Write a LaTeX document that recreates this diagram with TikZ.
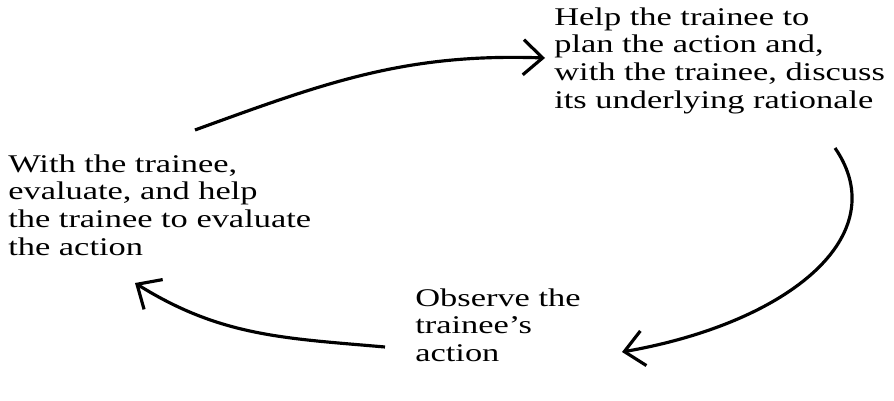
\documentclass[tikz,border=0pt]{standalone}
\usepackage{fontspec}
\setmainfont{Liberation Serif}[FakeStretch=1.35]
\usepackage{tikz}
\usetikzlibrary{arrows.meta,
                positioning}

\begin{document}
\begin{tikzpicture}[
    cyc/.style={-{Straight Barb[length=11pt,width=20pt]}, line width=1.8pt},
    txt/.style={anchor=north west, inner sep=0pt, align=left,
                font=\fontsize{14.5}{15.8}\selectfont}]
\useasboundingbox (0,0) rectangle (17.88,8);

\node[txt] (plan) at (11.08,7.86)
  {Help the trainee to\\ plan the action and,\\ with the trainee, discuss\\ its underlying rationale};
\node[txt] (evaluate) at (0.16,4.92)
  {With the trainee,\\ evaluate, and help\\ the trainee to evaluate\\ the action};
\node[txt] (observe) at (8.3,2.24)
  {Observe the\\ trainee's\\ action};

% ends of the three arrows
\coordinate (e1) at (3.9,5.4);
\coordinate (p1) at (10.9,6.84);
\coordinate (p2) at (16.7,5.04);
\coordinate (o1) at (12.44,0.96);
\coordinate (o2) at (7.7,1.06);
\coordinate (e2) at (2.7,2.34);

\draw[cyc] (e1) to[out=20,in=178] (p1);
\draw[cyc] (p2) .. controls (17.9,3.3) and (15.8,1.55) .. (o1);
\draw[cyc] (o2) to[out=175,in=-32] (e2);
\end{tikzpicture}
\end{document}
